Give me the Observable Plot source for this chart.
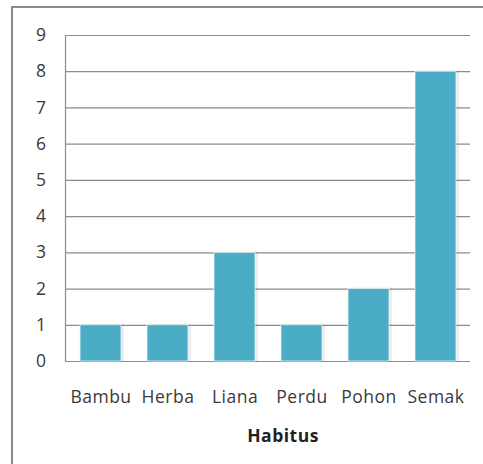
<!DOCTYPE html>
<html>
<head>
<meta charset="utf-8">
<script src="https://cdn.jsdelivr.net/npm/d3@7"></script>
<script src="https://cdn.jsdelivr.net/npm/@observablehq/plot@0.6"></script>
<style>
  html, body { margin: 0; padding: 0; background: #fff; overflow: hidden; }
  #wrap { position: relative; width: 483px; height: 464px; }
  #frame { position: absolute; left: 11px; top: 6px; width: 520px; height: 520px; border: 2px solid #8a8a8a; box-sizing: border-box; }
  #chart { position: absolute; left: 0; top: 0; }
  #chart svg { font-family: "Open Sans", Lato, sans-serif; }
  #chart svg text { font-size: 17.5px !important; letter-spacing: 0.5px; }
</style>
</head>
<body>
<div id="wrap"><div id="frame"></div><div id="chart"></div></div>
<script>
const categories = ["Bambu", "Herba", "Liana", "Perdu", "Pohon", "Semak"];
const values = [1, 1, 3, 1, 2, 8];
const yTicks = [0, 1, 2, 3, 4, 5, 6, 7, 8, 9];
const xTitle = "Habitus";

const data = categories.map((c, i) => ({habitus: c, count: values[i]}));

const chart = Plot.plot({
  width: 483,
  height: 464,
  marginLeft: 65,
  marginRight: 13,
  marginTop: 35,
  marginBottom: 103,
  style: {background: "transparent", fontSize: "17px", color: "#333"},
  x: {domain: categories, paddingInner: 0.39, paddingOuter: 0.195, label: null},
  y: {domain: [0, 9], label: null},
  marks: [
    Plot.gridY(yTicks, {stroke: "#8c8c8c", strokeOpacity: 1, strokeWidth: 1.2}),
    Plot.frame({anchor: "left", stroke: "#8c8c8c", strokeWidth: 1.2}),
    Plot.barY(data, {x: "habitus", y: "count", fill: "#000", fillOpacity: 0.07, dx: 2, dy: 0, inset: -1}),
    Plot.barY(data, {x: "habitus", y: "count", fill: "#4bacc6", stroke: "#e8f3f6", strokeWidth: 0.8}),
    Plot.axisY(yTicks, {tickSize: 0, tickPadding: 19, fill: "#3a3a3a", label: null, tickFormat: d => String(d)}),
    Plot.axisX({tickSize: 0, tickPadding: 29, fill: "#3a3a3a", label: null}),
    Plot.text([xTitle], {frameAnchor: "bottom", dy: 80, dx: 15, fontWeight: "bold", fill: "#222", text: d => d})
  ]
});
document.getElementById("chart").appendChild(chart);
</script>
</body>
</html>
